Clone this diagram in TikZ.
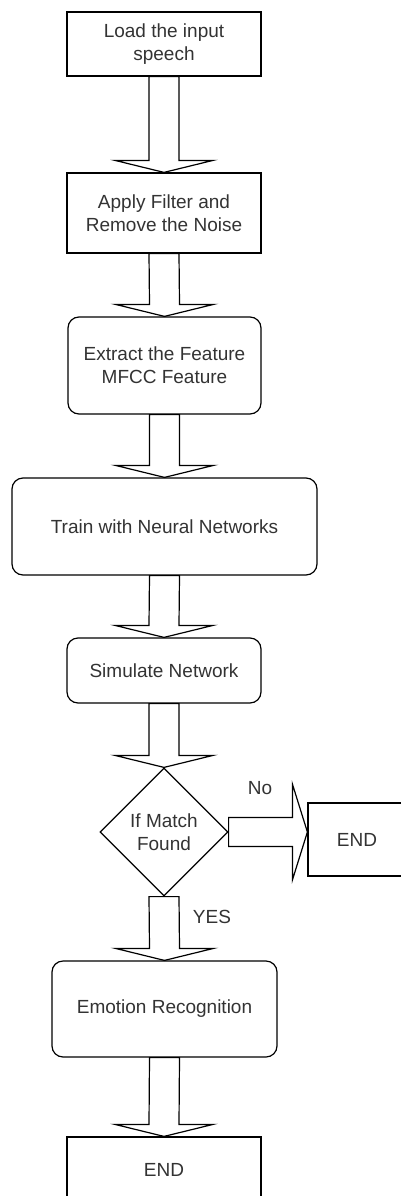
\documentclass[tikz,border=0pt]{standalone}
\usepackage{fontspec}
\setmainfont{Liberation Sans}
\usetikzlibrary{shapes.geometric,calc}

\tikzset{
	box/.style={draw, line width=1.2pt, minimum width=194pt, inner sep=0pt, align=center, text=black!80, font=\fontsize{19}{23}\selectfont},
	roundbox/.style={box, rounded corners=11pt},
	decision/.style={box, diamond, minimum width=128pt, minimum height=128pt, aspect=1},
	fatarrow/.style={draw, line width=1.2pt, line join=miter},
	lbl/.style={text=black!80, font=\fontsize{19}{23}\selectfont}
}

\newcommand{\fatdown}[2]{
	\draw[fatarrow] ($(#1.south)+(-15,0)$) -- ($(#2.north)+(-15,-12)$) -- ($(#2.north)+(-49,-12)$) -- (#2.north) -- ($(#2.north)+(49,-12)$) -- ($(#2.north)+(15,-12)$) -- ($(#1.south)+(15,0)$) -- cycle;
}

\begin{document}
\begin{tikzpicture}[x=1pt, y=-1pt]
	\clip (0,0) rectangle (401,1196);
	\node[box, minimum height=64pt] (load) at (164,44) {Load the input\\speech};
	\node[box, minimum height=80pt] (filter) at (164,213) {Apply Filter and\\Remove the Noise};
	\node[roundbox, minimum width=193pt, minimum height=97pt] (extract) at (164.5,365.5) {Extract the Feature\\MFCC Feature};
	\node[roundbox, minimum width=305pt, minimum height=97pt] (train) at (164.5,526.5) {Train with Neural Networks};
	\node[roundbox, minimum height=65pt] (simulate) at (164,670.5) {Simulate Network};
	\node[decision] (match) at (164,832) {If Match\\Found};
	\node[box, minimum width=98pt, minimum height=73pt] (endR) at (357,839.5) {END};
	\node[roundbox, minimum width=225pt, minimum height=96pt] (emotion) at (164.5,1009) {Emotion Recognition};
	\node[box, minimum height=66pt] (endB) at (164,1170) {END};

	% fat arrows
	\fatdown{load}{filter}
	\fatdown{filter}{extract}
	\fatdown{extract}{train}
	\fatdown{train}{simulate}
	\fatdown{simulate}{match}
	\fatdown{match}{emotion}
	\fatdown{emotion}{endB}

	\coordinate (tip) at (endR.west |- match.east);
	\draw[fatarrow] ($(match.east)+(0,-14.5)$) -- ($(tip)+(-15,-14.5)$) -- ($(tip)+(-15,-48)$) -- (tip) -- ($(tip)+(-15,48)$) -- ($(tip)+(-15,14.5)$) -- ($(match.east)+(0,14.5)$) -- cycle;

	\node[lbl] (no) at (260,788) {No};
	\node[lbl] (yes) at (212,917) {YES};
\end{tikzpicture}
\end{document}
